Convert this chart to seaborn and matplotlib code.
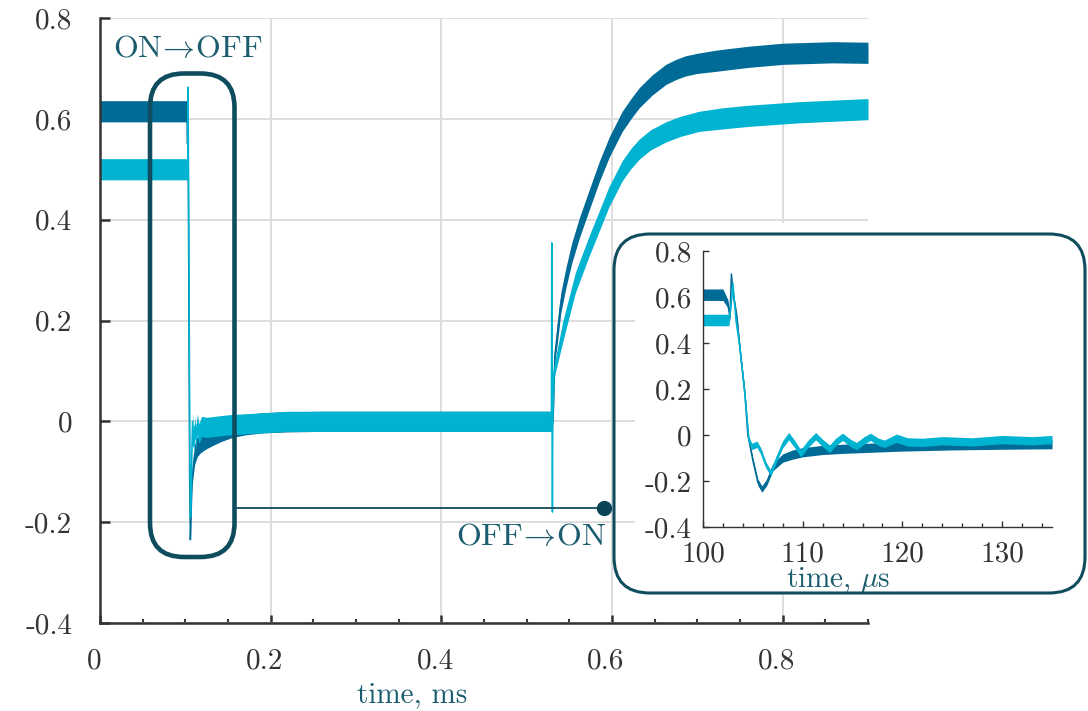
import numpy as np
import matplotlib
matplotlib.use("Agg")
import matplotlib.pyplot as plt
import matplotlib.transforms as mtransforms
from matplotlib.patches import FancyBboxPatch, Rectangle
from matplotlib.ticker import FixedLocator, FixedFormatter, MultipleLocator
import seaborn as sns

# ---------------- data ----------------
# main view, time in ms
main_t_dark = [0.000, 0.1020, 0.1026, 0.1030, 0.1040, 0.1050, 0.1059, 0.1066, 0.1075, 0.1090,
               0.1110, 0.1140, 0.1180, 0.1240, 0.1320, 0.1420, 0.1550, 0.1700, 0.1900, 0.2200,
               0.2600, 0.5300, 0.5310, 0.5330, 0.5360, 0.5400, 0.5460, 0.5530, 0.5620, 0.5730,
               0.5850, 0.5970, 0.6120, 0.6230, 0.6320, 0.6470, 0.6630, 0.6750, 0.6860, 0.7000,
               0.7210, 0.7400, 0.7600, 0.8000, 0.8580, 0.9000]
main_v_dark = [0.615, 0.615, 0.550, 0.640, 0.300, -0.100, -0.235, -0.200, -0.130, -0.095,
               -0.065, -0.050, -0.042, -0.035, -0.028, -0.020, -0.012, -0.007, -0.003, -0.001,
               0.000, 0.000, 0.000, 0.130, 0.175, 0.235, 0.285, 0.335, 0.385, 0.438,
               0.495, 0.545, 0.595, 0.622, 0.642, 0.667, 0.688, 0.698, 0.705, 0.710,
               0.715, 0.719, 0.723, 0.729, 0.732, 0.731]
main_n_dark = [0.021, 0.021, 0.010, 0.000, 0.000, 0.000, 0.000, 0.005, 0.012, 0.016,
               0.020, 0.020, 0.020, 0.020, 0.020, 0.020, 0.020, 0.020, 0.020, 0.020,
               0.020, 0.020, 0.000, 0.012, 0.020, 0.020, 0.020, 0.020, 0.020, 0.020,
               0.020, 0.020, 0.020, 0.020, 0.020, 0.020, 0.020, 0.020, 0.020, 0.020,
               0.021, 0.021, 0.021, 0.021, 0.021, 0.021]

main_t_light = [0.000, 0.1024, 0.1028, 0.1032, 0.1038, 0.1046, 0.1053, 0.1060, 0.1068, 0.1076,
                0.1085, 0.1097, 0.1110, 0.1124, 0.1140, 0.1160, 0.1190, 0.1250, 0.1350, 0.1500,
                0.1800, 0.2200, 0.5290, 0.5294, 0.5298, 0.5302, 0.5306, 0.5320, 0.5420, 0.5570,
                0.5730, 0.5890, 0.5960, 0.6120, 0.6220, 0.6320, 0.6450, 0.6630, 0.6800, 0.7020,
                0.7300, 0.7600, 0.8190, 0.8970, 0.9000]
main_v_light = [0.500, 0.500, 0.500, 0.663, 0.480, 0.200, -0.060, -0.190, -0.150, -0.060,
                0.000, -0.050, -0.010, -0.035, -0.005, -0.025, -0.010, -0.012, -0.010, -0.007,
                -0.004, 0.000, 0.000, 0.354, 0.000, -0.180, 0.000, 0.097, 0.176, 0.275,
                0.347, 0.414, 0.444, 0.497, 0.521, 0.540, 0.558, 0.574, 0.585, 0.595,
                0.601, 0.606, 0.613, 0.619, 0.619]
main_n_light = [0.021, 0.021, 0.012, 0.000, 0.000, 0.000, 0.000, 0.000, 0.006, 0.012,
                0.016, 0.016, 0.020, 0.020, 0.020, 0.020, 0.020, 0.020, 0.020, 0.020,
                0.020, 0.020, 0.020, 0.000, 0.000, 0.000, 0.000, 0.012, 0.020, 0.020,
                0.020, 0.020, 0.020, 0.020, 0.020, 0.020, 0.020, 0.020, 0.020, 0.020,
                0.021, 0.021, 0.021, 0.021, 0.021]

# zoomed view, time in microseconds
inset_t_dark = [100.0, 102.0, 102.5, 102.7, 102.85, 103.0, 103.4, 103.7, 104.2, 104.5,
                105.0, 105.5, 105.9, 106.4, 107.0, 108.0, 109.0, 110.0, 112.0, 114.0,
                117.0, 120.0, 125.0, 130.0, 135.0]
inset_v_dark = [0.610, 0.610, 0.570, 0.510, 0.700, 0.620, 0.510, 0.380, 0.180, 0.000,
                -0.110, -0.205, -0.235, -0.205, -0.140, -0.100, -0.085, -0.075, -0.065, -0.060,
                -0.055, -0.050, -0.045, -0.042, -0.040]
inset_n_dark = [0.025, 0.025, 0.018, 0.012, 0.000, 0.015, 0.015, 0.010, 0.010, 0.010,
                0.012, 0.014, 0.014, 0.014, 0.016, 0.018, 0.020, 0.020, 0.020, 0.020,
                0.020, 0.020, 0.020, 0.020, 0.020]

inset_t_light = [100.0, 102.6, 102.8, 103.0, 103.3, 103.7, 104.2, 104.6, 104.9, 105.4,
                 105.8, 106.3, 106.8, 107.4, 108.0, 108.6, 109.2, 109.8, 110.5, 111.3,
                 112.0, 112.7, 113.3, 114.0, 114.8, 115.4, 116.2, 116.8, 117.6, 118.2,
                 119.4, 120.5, 122.0, 124.0, 127.0, 130.0, 133.0, 135.0]
inset_v_light = [0.500, 0.500, 0.560, 0.660, 0.500, 0.380, 0.180, -0.020, -0.050, -0.040,
                 -0.070, -0.130, -0.165, -0.100, -0.040, -0.005, -0.040, -0.080, -0.040, -0.005,
                 -0.035, -0.060, -0.030, -0.008, -0.035, -0.048, -0.022, -0.008, -0.030, -0.038,
                 -0.014, -0.030, -0.032, -0.025, -0.030, -0.020, -0.025, -0.020]
inset_n_light = [0.025, 0.025, 0.015, 0.000, 0.015, 0.010, 0.010, 0.012, 0.014, 0.014,
                 0.014, 0.014, 0.012, 0.014, 0.016, 0.016, 0.016, 0.016, 0.016, 0.016,
                 0.016, 0.016, 0.016, 0.016, 0.016, 0.016, 0.016, 0.016, 0.016, 0.016,
                 0.018, 0.018, 0.018, 0.018, 0.018, 0.018, 0.018, 0.018]

y_ticks = [-0.4, -0.2, 0.0, 0.2, 0.4, 0.6, 0.8]
y_tick_labels = ["-0.4", "-0.2", "0", "0.2", "0.4", "0.6", "0.8"]
main_x_ticks = [0.0, 0.2, 0.4, 0.6, 0.8]
main_x_tick_labels = ["0", "0.2", "0.4", "0.6", "0.8"]
inset_x_ticks = [100, 110, 120, 130]
inset_x_tick_labels = ["100", "110", "120", "130"]

# ---------------- style ----------------
DARK = "#006b97"
LIGHT = "#00b3d1"
FRAME = "#0e4c5e"
LABEL = "#1b5c6e"
INK = "#333333"
ARROW = r"$\!\rightarrow\!$"

sns.set_style("ticks")
plt.rcParams.update({
    "font.family": ["cmr10"],
    "mathtext.fontset": "cm",
    "axes.formatter.use_mathtext": True,
    "axes.unicode_minus": False,
})

W, H = 1088, 711
fig = plt.figure(figsize=(W / 100, H / 100), dpi=100)


def px(x, y):
    """pixel position (from top-left) -> inches from bottom-left"""
    return x / 100.0, (H - y) / 100.0


def draw_trace(ax, t, v, n, color):
    t = np.asarray(t, float)
    v = np.asarray(v, float)
    n = np.asarray(n, float)
    ax.fill_between(t, v - n, v + n, color=color, lw=0, zorder=2)
    sns.lineplot(x=t, y=v, ax=ax, color=color, lw=1.1, estimator=None,
                 sort=False, zorder=2)


# ---------------- main axes ----------------
ax = fig.add_axes([100 / W, (H - 623) / H, 768 / W, 605 / H])
ax.set_xlim(0, 0.9)
ax.set_ylim(-0.4, 0.8)
ax.grid(True, color="#dedede", lw=1.4, zorder=0)
ax.set_axisbelow(True)

draw_trace(ax, main_t_dark, main_v_dark, main_n_dark, DARK)
draw_trace(ax, main_t_light, main_v_light, main_n_light, LIGHT)

for s in ("top", "right"):
    ax.spines[s].set_visible(False)
for s in ("left", "bottom"):
    ax.spines[s].set_color(INK)
    ax.spines[s].set_linewidth(1.8)

ax.yaxis.set_major_locator(FixedLocator(y_ticks))
ax.yaxis.set_major_formatter(FixedFormatter(y_tick_labels))
ax.xaxis.set_major_locator(FixedLocator(main_x_ticks))
ax.xaxis.set_major_formatter(FixedFormatter(main_x_tick_labels))
ax.xaxis.set_minor_locator(MultipleLocator(0.05))
ax.tick_params(axis="both", which="major", direction="in", color=INK, width=1.8,
               labelsize=21, labelcolor=INK)
ax.tick_params(axis="y", which="major", length=7, pad=20)
ax.tick_params(axis="x", which="major", length=6, pad=18)
ax.tick_params(axis="x", which="minor", direction="in", length=3, width=1.5, color=INK)

# x tick labels sit a little left of their ticks
shift = mtransforms.ScaledTranslation(-6 / 100, 0, fig.dpi_scale_trans)
for lab in ax.get_xticklabels():
    lab.set_transform(lab.get_transform() + shift)

ax.set_xlabel("time, ms", fontsize=21, color=LABEL)
ax.xaxis.label.set_va("baseline")
ax.xaxis.set_label_coords(312 / 768, -79 / 605)
ax.set_ylabel("")

# annotations on the main view
ax.text(0.1029, 0.723, "ON" + ARROW + "OFF", ha="center", va="baseline",
        fontsize=23, color=LABEL, zorder=5)
ax.text(0.593, -0.245, "OFF" + ARROW + "ON", ha="right", va="baseline",
        fontsize=23, color=LABEL, zorder=5, clip_on=False)
ax.plot([0.1602, 0.5906], [-0.1717, -0.1717], color=FRAME, lw=1.3,
        clip_on=False, zorder=5)
ax.plot([0.5906], [-0.1717], "o", color="#0b4456", ms=10, clip_on=False, zorder=6)

# rounded frame around the switching event
x0, y0 = px(150, 557)
x1, y1 = px(234.5, 73.5)
fig.patches.append(FancyBboxPatch((x0, y0), x1 - x0, y1 - y0,
                                  boxstyle="round,pad=0,rounding_size=0.34",
                                  transform=fig.dpi_scale_trans, fill=False,
                                  ec=FRAME, lw=3.3, zorder=5))

# white backing behind the zoomed view
bx0, by0 = px(635, 593)
bx1, by1 = px(1088, 223)
fig.patches.append(Rectangle((bx0, by0), bx1 - bx0, by1 - by0,
                             transform=fig.dpi_scale_trans, fc="white",
                             ec="none", zorder=1))

# ---------------- zoomed view ----------------
ins = fig.add_axes([703 / W, (H - 527) / H, 349 / W, 276 / H], zorder=2)
ins.patch.set_alpha(0)
ins.set_xlim(100, 135)
ins.set_ylim(-0.4, 0.8)
draw_trace(ins, inset_t_dark, inset_v_dark, inset_n_dark, DARK)
draw_trace(ins, inset_t_light, inset_v_light, inset_n_light, LIGHT)
for s in ("top", "right"):
    ins.spines[s].set_visible(False)
for s in ("left", "bottom"):
    ins.spines[s].set_color(INK)
    ins.spines[s].set_linewidth(1.0)
ins.yaxis.set_major_locator(FixedLocator(y_ticks))
ins.yaxis.set_major_formatter(FixedFormatter(y_tick_labels))
ins.xaxis.set_major_locator(FixedLocator(inset_x_ticks))
ins.xaxis.set_major_formatter(FixedFormatter(inset_x_tick_labels))
ins.xaxis.set_minor_locator(MultipleLocator(2))
ins.tick_params(axis="both", which="major", direction="in", color=INK, width=1.0,
                length=4, labelsize=21, labelcolor=INK)
ins.tick_params(axis="y", which="major", pad=8)
ins.tick_params(axis="x", which="major", pad=10)
ins.tick_params(axis="x", which="minor", direction="in", length=3, width=1.0, color=INK)
ins.set_xlabel(r"time, $\mu$s", fontsize=21, color=LABEL)
ins.xaxis.label.set_va("baseline")
ins.xaxis.set_label_coords(135 / 349, -60 / 276)
ins.set_ylabel("")

# rounded frame around the zoomed view
fx0, fy0 = px(614, 593)
fx1, fy1 = px(1085, 234)
fig.patches.append(FancyBboxPatch((fx0, fy0), fx1 - fx0, fy1 - fy0,
                                  boxstyle="round,pad=0,rounding_size=0.36",
                                  transform=fig.dpi_scale_trans, fill=False,
                                  ec=FRAME, lw=2.2, zorder=3))

fig.savefig("out.png", dpi=100)
